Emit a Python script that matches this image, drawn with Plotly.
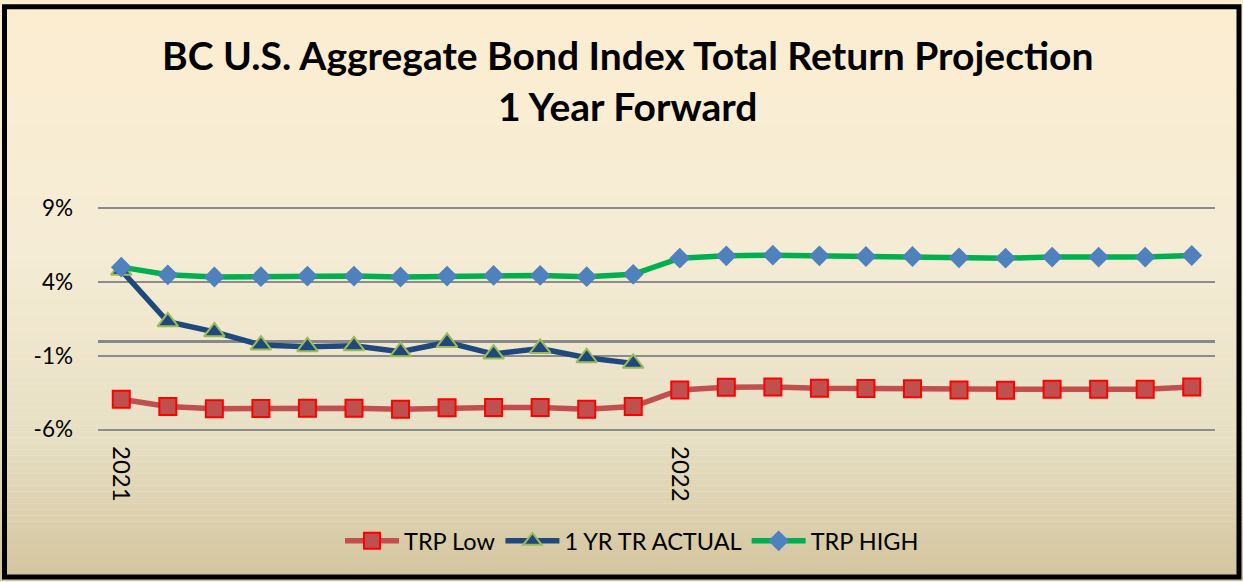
import plotly.graph_objects as go

# ---------------- data ----------------
months = ["Jan 2021", "Feb 2021", "Mar 2021", "Apr 2021", "May 2021", "Jun 2021",
          "Jul 2021", "Aug 2021", "Sep 2021", "Oct 2021", "Nov 2021", "Dec 2021",
          "Jan 2022", "Feb 2022", "Mar 2022", "Apr 2022", "May 2022", "Jun 2022",
          "Jul 2022", "Aug 2022", "Sep 2022", "Oct 2022", "Nov 2022", "Dec 2022"]
trp_low = [-3.94, -4.44, -4.59, -4.57, -4.55, -4.55, -4.62, -4.53, -4.50, -4.50, -4.62, -4.44,
           -3.31, -3.13, -3.11, -3.20, -3.22, -3.24, -3.31, -3.33, -3.27, -3.27, -3.27, -3.11]
actual_1yr = [4.80, 1.31, 0.63, -0.27, -0.38, -0.32, -0.72, -0.09, -0.88, -0.50, -1.13, -1.51,
              None, None, None, None, None, None, None, None, None, None, None, None]
trp_high = [5.02, 4.50, 4.35, 4.37, 4.41, 4.41, 4.35, 4.41, 4.46, 4.46, 4.37, 4.53,
            5.63, 5.79, 5.83, 5.79, 5.74, 5.74, 5.65, 5.63, 5.70, 5.70, 5.70, 5.81]
y_ticks = [-6, -1, 4, 9]
y_tick_text = ["-6%", "-1%", "4%", "9%"]
x_tick_cats = ["Jan 2021", "Jan 2022"]
x_tick_text = ["2021", "2022"]

title_lines = ["BC U.S. Aggregate Bond Index Total Return Projection", "1 Year Forward"]

# ---------------- layout geometry (pixels) ----------------
W, H = 1243, 582
Y_MIN, Y_MAX, PAD = -6, 9, 0.1
PX_PER_UNIT = (430 - 208) / (Y_MAX - Y_MIN)
L, R = 98, 28
T = 208 - PAD * PX_PER_UNIT
B = (H - 430) - PAD * PX_PER_UNIT
PW, PH = W - L - R, H - T - B


def px_x(px):
    return (px - L) / PW


def px_y(py):
    return (H - B - py) / PH


FONT = "Lato"

fig = go.Figure()
fig.add_trace(go.Scatter(
    x=months, y=trp_low, name="TRP Low", mode="lines+markers",
    line=dict(color="#C0504D", width=5.5),
    marker=dict(symbol="square", size=17, color="#C0504D", line=dict(color="#FF0000", width=2)),
))
fig.add_trace(go.Scatter(
    x=months, y=actual_1yr, name="1 YR TR ACTUAL", mode="lines+markers",
    line=dict(color="#1F497D", width=5.5),
    marker=dict(symbol="triangle-up", size=18, color="#1F497D", line=dict(color="#9BBB59", width=2)),
))
fig.add_trace(go.Scatter(
    x=months, y=trp_high, name="TRP HIGH", mode="lines+markers",
    line=dict(color="#00B050", width=5.5),
    marker=dict(symbol="diamond", size=16, color="#4F81BD", line=dict(width=0)),
))

# gradient background bands
stops = [(0, (252, 237, 209)), (250, (245, 236, 213)), (440, (231, 223, 195)), (582, (211, 196, 157))]


def col_at(py):
    for (y0, c0), (y1, c1) in zip(stops[:-1], stops[1:]):
        if y0 <= py <= y1:
            t = (py - y0) / (y1 - y0)
            return "rgb(%d,%d,%d)" % tuple(round(a + (b - a) * t) for a, b in zip(c0, c1))
    return "rgb(%d,%d,%d)" % stops[-1][1]


shapes = []
band = 6
for i in range(0, H, band):
    shapes.append(dict(type="rect", xref="paper", yref="paper", layer="below",
                       x0=px_x(0), x1=px_x(W), y0=px_y(i), y1=px_y(min(i + band, H)),
                       fillcolor=col_at(i + band / 2), line=dict(width=0)))
# outer black border
shapes.append(dict(type="rect", xref="paper", yref="paper", layer="above",
                   x0=px_x(4.5), x1=px_x(W - 4), y0=px_y(5.5), y1=px_y(H - 4),
                   line=dict(color="black", width=5), fillcolor="rgba(0,0,0,0)"))

annotations = []
for txt, py in zip(title_lines, [54, 105]):
    annotations.append(dict(text="<b>%s</b>" % txt, xref="paper", yref="paper",
                            x=px_x(627), y=px_y(py), xanchor="center", yanchor="middle",
                            showarrow=False, font=dict(family=FONT, size=39, color="black")))

fig.update_layout(
    width=W, height=H,
    margin=dict(l=L, r=R, t=T, b=B, pad=0),
    paper_bgcolor="#F5ECD4",
    plot_bgcolor="rgba(0,0,0,0)",
    shapes=shapes,
    annotations=annotations,
    showlegend=True,
    legend=dict(orientation="h", x=px_x(632), y=px_y(542), xanchor="center", yanchor="middle",
                font=dict(family=FONT, size=23.5, color="black"), bgcolor="rgba(0,0,0,0)",
                itemwidth=54),
    font=dict(family=FONT, color="black"),
    hovermode=False,
)
fig.update_xaxes(
    type="category", range=[-0.5, len(months) - 0.5],
    tickmode="array", tickvals=x_tick_cats, ticktext=x_tick_text,
    tickangle=90, showgrid=False, showline=False, zeroline=False, ticks="",
    ticklabelstandoff=14,
    tickfont=dict(family=FONT, size=24, color="black"),
)
fig.update_yaxes(
    range=[Y_MIN - PAD, Y_MAX + PAD], tickmode="array", tickvals=y_ticks, ticktext=y_tick_text,
    showgrid=True, gridcolor="#8C8C8C", gridwidth=2,
    zeroline=True, zerolinecolor="#888888", zerolinewidth=3,
    showline=False, ticks="", ticklabelstandoff=24,
    tickfont=dict(family=FONT, size=22.5, color="black"),
)

fig.write_html(
    "out.html",
    config={"displayModeBar": False},
    post_script="document.body.style.margin='0';document.body.style.overflow='hidden';",
)
